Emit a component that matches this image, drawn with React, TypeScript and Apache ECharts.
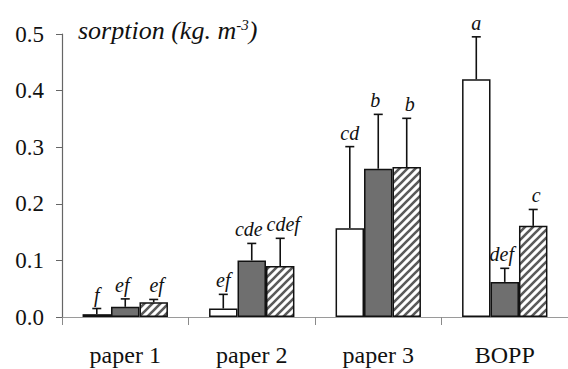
import React, { useEffect, useRef } from "react";
import * as echarts from "echarts";

const categories = ["paper 1", "paper 2", "paper 3", "BOPP"];
const seriesA = [0.005, 0.015, 0.157, 0.42];
const seriesB = [0.018, 0.1, 0.262, 0.062];
const seriesC = [0.026, 0.09, 0.265, 0.161];
const errTopA = [0.015, 0.04, 0.301, 0.495];
const errTopB = [0.032, 0.13, 0.358, 0.086];
const errTopC = [0.031, 0.139, 0.351, 0.19];
const lettersA = ["f", "ef", "cd", "a"];
const lettersB = ["ef", "cde", "b", "def"];
const lettersC = ["ef", "cdef", "b", "c"];
const yTicks = [0, 0.1, 0.2, 0.3, 0.4, 0.5];

const FONT = "Liberation Serif, Times New Roman, serif";
const BAR_FRAC = 0.225;

function makeHatch(): HTMLCanvasElement {
  const c = document.createElement("canvas");
  c.width = 8;
  c.height = 8;
  const ctx = c.getContext("2d")!;
  ctx.fillStyle = "#ffffff";
  ctx.fillRect(0, 0, 8, 8);
  ctx.strokeStyle = "#5a5a5a";
  ctx.lineWidth = 2.6;
  ctx.beginPath();
  ctx.moveTo(-2, 10);
  ctx.lineTo(10, -2);
  ctx.moveTo(-2, 2);
  ctx.lineTo(2, -2);
  ctx.moveTo(6, 10);
  ctx.lineTo(10, 6);
  ctx.stroke();
  return c;
}

export default function App() {
  const ref = useRef<HTMLDivElement>(null);
  useEffect(() => {
    document.body.style.margin = "0";
    const chart = echarts.init(ref.current!, null, { renderer: "svg" });
    const vals = [seriesA, seriesB, seriesC];
    const tops = [errTopA, errTopB, errTopC];
    const letters = [lettersA, lettersB, lettersC];
    const errData: any[] = [];
    const errLabels: string[] = [];
    for (let s = 0; s < 3; s++) {
      for (let i = 0; i < categories.length; i++) {
        errData.push([i, s, vals[s][i], tops[s][i]]);
        errLabels.push(letters[s][i]);
      }
    }
    const border = { borderColor: "#111", borderWidth: 1.5 };
    chart.setOption({
      animation: false,
      backgroundColor: "#fff",
      title: {
        text: "sorption (kg. m{sup|-3})",
        left: 73,
        top: 12,
        textStyle: {
          fontFamily: FONT,
          fontStyle: "italic",
          fontWeight: "normal",
          fontSize: 26,
          color: "#111",
          rich: {
            sup: {
              fontFamily: FONT,
              fontStyle: "italic",
              fontSize: 15,
              color: "#111",
              verticalAlign: "top",
            },
          },
        },
      },
      grid: { left: 62, right: 0, top: 34, bottom: 52, containLabel: false },
      xAxis: {
        type: "category",
        data: categories,
        boundaryGap: true,
        axisLine: { lineStyle: { color: "#9a9a9a", width: 1 } },
        axisTick: { show: true, length: 8, lineStyle: { color: "#8a8a8a" } },
        axisLabel: {
          margin: 26,
          fontFamily: FONT,
          fontSize: 24,
          color: "#111",
        },
      },
      yAxis: {
        type: "value",
        min: 0,
        max: yTicks[yTicks.length - 1],
        interval: 0.1,
        splitLine: { show: false },
        axisLine: { show: true, lineStyle: { color: "#666", width: 1.2 } },
        axisTick: { show: true, length: 6, lineStyle: { color: "#666" } },
        axisLabel: {
          margin: 18,
          fontFamily: FONT,
          fontSize: 23,
          color: "#111",
          formatter: (v: number) => v.toFixed(1),
        },
      },
      series: [
        {
          type: "bar",
          data: seriesA,
          barWidth: BAR_FRAC * 100 + "%",
          barGap: "0%",
          itemStyle: { color: "#ffffff", ...border },
        },
        {
          type: "bar",
          data: seriesB,
          barWidth: BAR_FRAC * 100 + "%",
          barGap: "0%",
          itemStyle: { color: "#6f6f6f", ...border },
        },
        {
          type: "bar",
          data: seriesC,
          barWidth: BAR_FRAC * 100 + "%",
          barGap: "0%",
          itemStyle: {
            color: { image: makeHatch(), repeat: "repeat" } as any,
            ...border,
          },
        },
        {
          type: "custom",
          z: 5,
          data: errData,
          renderItem: (params: any, api: any) => {
            const cat = api.value(0);
            const s = api.value(1);
            const v = api.value(2);
            const e = api.value(3);
            const base = api.coord([cat, v]);
            const top = api.coord([cat, e]);
            const band = api.size([1, 0])[0];
            const bw = band * BAR_FRAC;
            const x = base[0] + (s - 1) * bw;
            const labelShift = s === 1 ? -3 : s === 2 ? 3 : 0;
            const st = { stroke: "#111", lineWidth: 1.6 };
            return {
              type: "group",
              children: [
                {
                  type: "line",
                  shape: { x1: x, y1: base[1], x2: x, y2: top[1] },
                  style: st,
                },
                {
                  type: "line",
                  shape: { x1: x - 4.5, y1: top[1], x2: x + 4.5, y2: top[1] },
                  style: st,
                },
                {
                  type: "text",
                  x: x + labelShift,
                  y: top[1] - 4,
                  style: {
                    text: errLabels[params.dataIndex],
                    align: "center",
                    verticalAlign: "bottom",
                    fontFamily: FONT,
                    fontStyle: "italic",
                    fontSize: 20,
                    fill: "#111",
                  },
                },
              ],
            };
          },
        },
      ],
    });
    return () => chart.dispose();
  }, []);
  return <div ref={ref} style={{ width: 568, height: 369 }} />;
}
